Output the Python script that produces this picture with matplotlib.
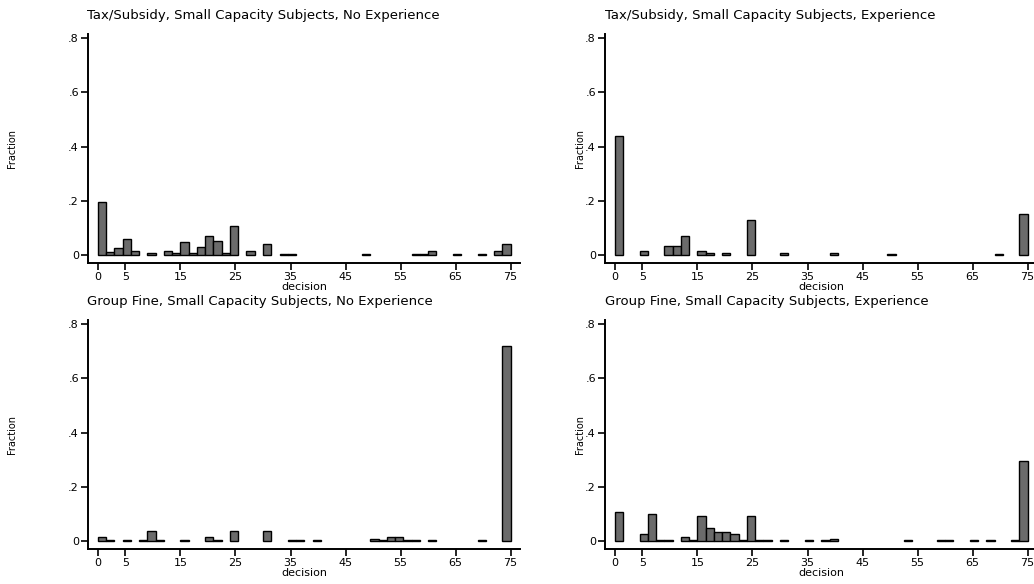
import numpy as np
import matplotlib
matplotlib.use("Agg")
import matplotlib.pyplot as plt

# ---- data: fraction of subjects per decision bin (50 bins of width 1.5 over 0..75)
bin_width = 1.5
n_bins = 50

def bins_from(d):
    v = [0.0] * n_bins
    for k, h in d.items():
        v[k] = h
    return v

tax_noexp = bins_from({0: 0.196, 1: 0.012, 2: 0.026, 3: 0.062, 4: 0.018, 6: 0.010,
                       8: 0.018, 9: 0.011, 10: 0.048, 11: 0.011, 12: 0.033, 13: 0.070,
                       14: 0.055, 15: 0.011, 16: 0.107, 18: 0.018, 20: 0.043,
                       22: 0.005, 23: 0.005, 32: 0.005, 38: 0.005, 39: 0.005,
                       40: 0.018, 43: 0.005, 46: 0.005, 48: 0.015, 49: 0.043})
tax_exp = bins_from({0: 0.438, 3: 0.018, 6: 0.034, 7: 0.034, 8: 0.070, 10: 0.018,
                     11: 0.011, 13: 0.011, 16: 0.129, 20: 0.011, 26: 0.011,
                     33: 0.005, 46: 0.005, 49: 0.153})
fine_noexp = bins_from({0: 0.018, 1: 0.005, 3: 0.005, 5: 0.005, 6: 0.040, 7: 0.005,
                        10: 0.005, 13: 0.018, 14: 0.005, 16: 0.040, 20: 0.040,
                        23: 0.005, 24: 0.005, 26: 0.005, 33: 0.010, 34: 0.005,
                        35: 0.018, 36: 0.018, 37: 0.005, 38: 0.005, 40: 0.005,
                        46: 0.005, 49: 0.720})
fine_exp = bins_from({0: 0.108, 3: 0.026, 4: 0.102, 5: 0.005, 6: 0.005, 8: 0.018,
                      9: 0.005, 10: 0.093, 11: 0.049, 12: 0.034, 13: 0.034, 14: 0.026,
                      15: 0.005, 16: 0.093, 17: 0.005, 18: 0.005, 20: 0.005, 23: 0.005,
                      25: 0.005, 26: 0.010, 35: 0.005, 39: 0.005, 40: 0.005, 43: 0.005,
                      45: 0.005, 48: 0.005, 49: 0.298})

titles = ["Tax/Subsidy, Small Capacity Subjects, No Experience",
          "Tax/Subsidy, Small Capacity Subjects, Experience",
          "Group Fine, Small Capacity Subjects, No Experience",
          "Group Fine, Small Capacity Subjects, Experience"]
series = [tax_noexp, tax_exp, fine_noexp, fine_exp]
xticks = [0, 5, 15, 25, 35, 45, 55, 65, 75]
yticks = [0, 0.2, 0.4, 0.6, 0.8]
ytick_labels = ["0", ".2", ".4", ".6", ".8"]

W, H = 1034, 584
fig = plt.figure(figsize=(W / 100, H / 100), dpi=100)
plt.rcParams['font.family'] = ['DejaVu Sans']

# panel boxes in pixels: (x0, x1, ytop, ybottom)
boxes = [(88, 520, 33.8, 263), (605, 1037, 33.8, 263),
         (88, 520, 320, 549), (605, 1037, 320, 549)]
title_pos = [(87, 15), (605, 15), (87, 302), (605, 302)]
ylab_x = [12, 580, 12, 580]

edges = np.arange(n_bins) * bin_width
for i, (vals, (x0, x1, yt, yb)) in enumerate(zip(series, boxes)):
    ax = fig.add_axes([x0 / W, 1 - yb / H, (x1 - x0) / W, (yb - yt) / H])
    vals = np.asarray(vals)
    m = vals > 0
    ax.bar(edges[m], vals[m], width=bin_width, align='edge',
           color='#6b6b6b', edgecolor='black', linewidth=1.0)
    ax.set_xlim(-1.8, 76.7)
    ax.set_ylim(-0.0276, 0.815)
    for s in ['top', 'right']:
        ax.spines[s].set_visible(False)
    for s in ['left', 'bottom']:
        ax.spines[s].set_linewidth(1.4)
    ax.set_xticks(xticks)
    ax.set_xticklabels([str(t) for t in xticks], fontsize=8)
    ax.set_yticks(yticks)
    ax.set_yticklabels(ytick_labels, fontsize=8)
    ax.tick_params(axis='both', length=5, width=1.2, pad=1.5)
    ax.set_xlabel("decision", fontsize=8, labelpad=0)
    tx, ty = title_pos[i]
    fig.text(tx / W, 1 - ty / H, titles[i], fontsize=9.5, ha='left', va='center')
    fig.text(ylab_x[i] / W, 1 - ((yt + yb) / 2) / H, "Fraction", fontsize=7,
             rotation=90, ha='center', va='center')

fig.savefig("out.png", dpi=100)
